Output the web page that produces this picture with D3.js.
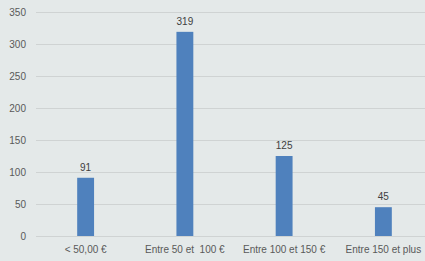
<!DOCTYPE html>
<html>
<head>
<meta charset="utf-8">
<script src="https://cdn.jsdelivr.net/npm/d3@7"></script>
<style>
  body { margin: 0; background: #e4e9e9; }
  svg { display: block; }
</style>
</head>
<body>
<div id="chart"></div>
<script>
var categories = ["< 50,00 €", "Entre 50 et  100 €", "Entre 100 et 150 €", "Entre 150 et plus"];
var values = [91, 319, 125, 45];
var yTicks = [0, 50, 100, 150, 200, 250, 300, 350];

var width = 425, height = 261;

var svg = d3.select("#chart").append("svg")
    .attr("width", width)
    .attr("height", height)
    .style("font-family", "'Liberation Sans', Arial, sans-serif");

svg.append("rect")
    .attr("width", width)
    .attr("height", height)
    .attr("fill", "#e4e9e9");

var x = d3.scaleBand()
    .domain(categories)
    .range([36, 433])
    .paddingInner(0.83)
    .paddingOuter(0.415);

var y = d3.scaleLinear()
    .domain([0, 350])
    .range([236, 12]);

// gridlines
svg.append("g").selectAll("line").data(yTicks)
    .enter()
    .append("line")
    .attr("x1", 36)
    .attr("x2", width)
    .attr("y1", function(d){ return Math.round(y(d)) + 0.5; })
    .attr("y2", function(d){ return Math.round(y(d)) + 0.5; })
    .attr("stroke", "#cfd3d3")
    .attr("stroke-width", 1);

// y labels
svg.append("g").selectAll("text").data(yTicks)
    .enter()
    .append("text")
    .attr("x", 26)
    .attr("y", function(d){ return y(d); })
    .attr("dy", "0.35em")
    .attr("text-anchor", "end")
    .attr("font-size", "10px")
    .attr("fill", "#595959")
    .text(function(d){ return d; });

// bars
svg.append("g").selectAll("rect").data(values)
    .enter()
    .append("rect")
    .attr("x", function(d, i){ return x(categories[i]); })
    .attr("width", x.bandwidth())
    .attr("y", function(d){ return y(d); })
    .attr("height", function(d){ return y(0) - y(d); })
    .attr("fill", "#4f81bd");

// value labels
svg.append("g").selectAll("text").data(values)
    .enter()
    .append("text")
    .attr("x", function(d, i){ return x(categories[i]) + x.bandwidth() / 2; })
    .attr("y", function(d){ return y(d) - 7; })
    .attr("text-anchor", "middle")
    .attr("font-size", "10px")
    .attr("fill", "#404040")
    .text(function(d){ return d; });

// category labels
svg.append("g").selectAll("text").data(categories)
    .enter()
    .append("text")
    .attr("x", function(d){ return x(d) + x.bandwidth() / 2; })
    .attr("y", 249)
    .attr("dy", "0.35em")
    .attr("text-anchor", "middle")
    .attr("font-size", "10px")
    .attr("fill", "#595959")
    .attr("xml:space", "preserve")
    .style("white-space", "pre")
    .text(function(d){ return d; });
</script>
</body>
</html>
